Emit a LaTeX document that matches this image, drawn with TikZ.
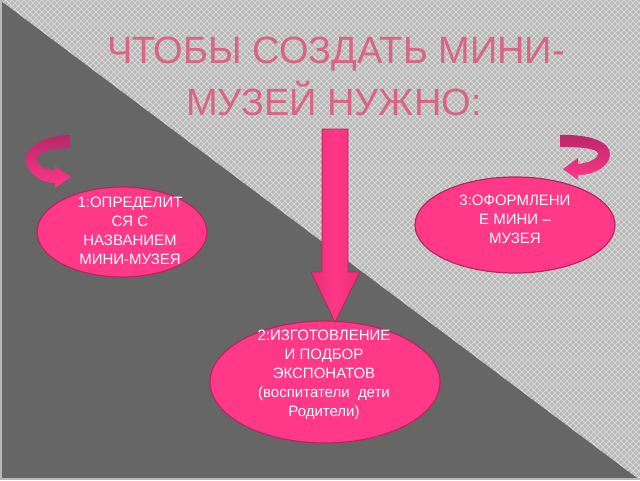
\documentclass[tikz,border=0pt]{standalone}
\usepackage{fontspec}
\setmainfont{Liberation Sans}
\usetikzlibrary{shapes.geometric}
\definecolor{darkbg}{RGB}{102,102,102}
\definecolor{lightbg}{RGB}{184,184,184}
\definecolor{latt}{RGB}{214,214,214}
\definecolor{pinkfill}{RGB}{255,56,136}
\definecolor{pinkside}{RGB}{236,44,118}
\definecolor{pinkedge}{RGB}{180,40,95}
\definecolor{titlecol}{RGB}{218,100,135}
\definecolor{arrowdark}{RGB}{185,38,105}
\begin{document}
\begin{tikzpicture}[x=1pt,y=-1pt,
  stepoval/.style={ellipse, draw=pinkedge, line width=1.2pt, fill=pinkfill, inner sep=0pt},
  ovaltext/.style={text=white, font=\fontsize{15}{19}\selectfont, align=center, inner sep=0pt},
  titletext/.style={text=titlecol, font=\fontsize{38}{46}\selectfont, anchor=base, inner sep=0pt},
  curlarrow/.style={top color=arrowdark, bottom color=pinkfill, draw=none},
  bigarrow/.style={left color=pinkside, right color=pinkside, middle color=pinkfill, draw=pinkedge, line width=0.8pt},
  lattline/.style={draw=latt, line width=0.8pt},
]
\useasboundingbox (0,0) rectangle (640,480);
% background
\fill[darkbg] (0,0) rectangle (640,480);
\begin{scope}
  \clip (0,0) -- (640,0) -- (640,480) -- cycle;
  \fill[lightbg] (0,0) rectangle (640,480);
  \foreach \c in {-480,-474,...,640} {
    \draw[lattline] (\c,0) -- ++(480,480);
  }
  \foreach \c in {0,6,...,1120} {
    \draw[lattline] (\c,0) -- ++(-480,480);
  }
\end{scope}
\fill[lightbg] (0,0) rectangle (2,480);
\fill[lightbg] (0,477.5) rectangle (640,480);

% title
\node[titletext] (title1) at (336,63) {ЧТОБЫ СОЗДАТЬ МИНИ-};
\node[titletext] (title2) at (334,115) {МУЗЕЙ НУЖНО:};

% ovals
\node[stepoval, minimum width=170pt, minimum height=90pt] (e1) at (122,232) {};
\node[stepoval, minimum width=230pt, minimum height=122pt] (e2) at (325,382) {};
\node[stepoval, minimum width=200pt, minimum height=96pt] (e3) at (515,225) {};

\node[ovaltext] (t1) at (130,231) {1:ОПРЕДЕЛИТ\\СЯ С\\НАЗВАНИЕМ\\МИНИ-МУЗЕЯ};
\node[ovaltext] (t2) at (324,375) {2:ИЗГОТОВЛЕНИЕ\\И ПОДБОР\\ЭКСПОНАТОВ\\(воспитатели\ \ дети\\Родители)};
\node[ovaltext] (t3) at (515,219) {3:ОФОРМЛЕНИ\\Е МИНИ –\\МУЗЕЯ};

% big down arrow
\shade[bigarrow] (322,129) -- (348,129) -- (348,272) -- (360,272) -- (335,322) -- (311,272) -- (322,272) -- cycle;

% left curled arrow
\shade[curlarrow] (70,135) .. controls (40,136) and (22,150) .. (26,163)
  .. controls (30,175) and (42,183) .. (55,183)
  -- (55,188) -- (71,177) -- (55,166) -- (55,170)
  .. controls (45,170) and (37,165) .. (37,159)
  .. controls (37,152) and (50,148) .. (70,148) -- cycle;

% right curled arrow
\shade[curlarrow] (560,135) .. controls (590,134) and (611,142) .. (610,155)
  .. controls (609,166) and (595,175) .. (578,175)
  -- (578,180) -- (563,169) -- (578,158) -- (578,164)
  .. controls (590,163) and (598,158) .. (598,154)
  .. controls (598,149) and (585,147) .. (560,147) -- cycle;
\end{tikzpicture}
\end{document}
